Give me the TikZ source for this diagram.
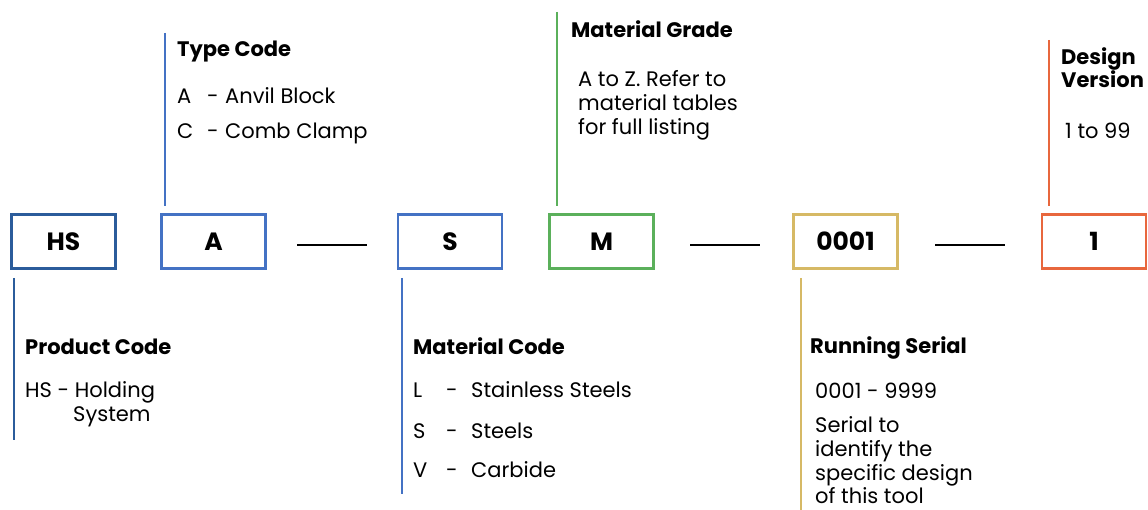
\documentclass[tikz,border=0pt]{standalone}
\usepackage{fontspec}
\setmainfont{Poppins}
\definecolor{cdark}{HTML}{2B5C9B}
\definecolor{cblue}{HTML}{4472C4}
\definecolor{cgreen}{HTML}{5BB05B}
\definecolor{cgold}{HTML}{D6B965}
\definecolor{corange}{HTML}{E8673D}
\tikzset{
  codebox/.style={draw, line width=2.6pt, minimum width=104pt, minimum height=54pt, inner sep=0pt, font=\fontsize{25}{28}\selectfont\bfseries},
  vline/.style={line width=2.6pt},
  sep/.style={line width=2.2pt, black},
  ttl/.style={anchor=base west, inner sep=0pt, font=\fontsize{21}{24}\selectfont\bfseries},
  txt/.style={anchor=base west, inner sep=0pt, font=\fontsize{21}{24}\selectfont},
}
\begin{document}
\begin{tikzpicture}[x=1pt,y=-1pt]
\useasboundingbox (0,0) rectangle (1148,510);
% boxes
\node[codebox, cdark, text=black] (hs) at (63.5,241.5) {HS};
\node[codebox, cblue, text=black] (a) at (213.5,241.5) {A};
\node[codebox, cblue, text=black] (s) at (450,241.5) {S};
\node[codebox, cgreen, text=black] (m) at (601.5,241.5) {M};
\node[codebox, cgold, text=black] (ser) at (845.5,241.5) {0001};
\node[codebox, corange, text=black] (ver) at (1094,241.5) {1};
% separators
\coordinate (d1a) at (297,245); \coordinate (d1b) at (367,245);
\coordinate (d2a) at (690,245); \coordinate (d2b) at (760,245);
\coordinate (d3a) at (935,245); \coordinate (d3b) at (1005,245);
\draw[sep] (d1a) -- (d1b);
\draw[sep] (d2a) -- (d2b);
\draw[sep] (d3a) -- (d3b);
% vertical leader lines
\coordinate (t1) at (165,33); \coordinate (t2) at (165,206);
\coordinate (p1) at (14,278); \coordinate (p2) at (14,440);
\coordinate (mc1) at (402,278); \coordinate (mc2) at (402,494);
\coordinate (mg1) at (557,12); \coordinate (mg2) at (557,206);
\coordinate (rs1) at (801,278); \coordinate (rs2) at (801,510);
\coordinate (dv1) at (1049,40); \coordinate (dv2) at (1049,206);
\draw[vline, cblue] (t1) -- (t2);
\draw[vline, cdark] (p1) -- (p2);
\draw[vline, cblue] (mc1) -- (mc2);
\draw[vline, cgreen] (mg1) -- (mg2);
\draw[vline, cgold] (rs1) -- (rs2);
\draw[vline, corange] (dv1) -- (dv2);
% Type code
\node[ttl] (tc) at (177,57) {Type Code};
\node[txt] (tca1) at (177,104) {A};
\node[txt] (tca2) at (207,104) {-};
\node[txt] (tca3) at (225,104) {Anvil Block};
\node[txt] (tcc1) at (177,139) {C};
\node[txt] (tcc2) at (207,139) {-};
\node[txt] (tcc3) at (225,139) {Comb Clamp};
% Material grade
\node[ttl] (mg) at (571,38) {Material Grade};
\node[txt] (mgl1) at (578,87) {A to Z. Refer to};
\node[txt] (mgl2) at (578,111) {material tables};
\node[txt] (mgl3) at (578,135) {for full listing};
% Design version
\node[ttl] (dv) at (1061,65) {Design};
\node[ttl] (dv2t) at (1061,88) {Version};
\node[txt] (dvt) at (1065,139) {1 to 99};
% Product code
\node[ttl] (pc) at (25,355) {Product Code};
\node[txt] (pcl1) at (25,397) {HS - Holding};
\node[txt] (pcl2) at (73,421) {System};
% Material code
\node[ttl] (mct) at (413,355) {Material Code};
\node[txt] (l1) at (413,397) {L};
\node[txt] (l2) at (446,397) {-};
\node[txt] (l3) at (471,397) {Stainless Steels};
\node[txt] (s1) at (413,438) {S};
\node[txt] (s2) at (446,438) {-};
\node[txt] (s3) at (471,438) {Steels};
\node[txt] (v1) at (413,477) {V};
\node[txt] (v2) at (446,477) {-};
\node[txt] (v3) at (471,477) {Carbide};
% Running serial
\node[ttl] (rst) at (810,354) {Running Serial};
\node[txt] (rs0) at (815,398) {0001 - 9999};
\node[txt] (rsa) at (815,432) {Serial to};
\node[txt] (rsb) at (815,456) {identify the};
\node[txt] (rsc) at (815,480) {specific design};
\node[txt] (rsd) at (815,503) {of this tool};
\end{tikzpicture}
\end{document}
